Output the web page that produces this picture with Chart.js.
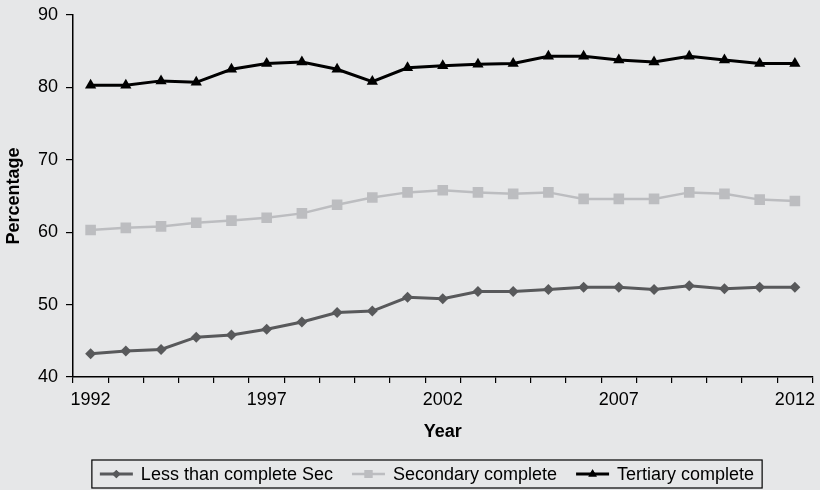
<!DOCTYPE html>
<html>
<head>
<meta charset="utf-8">
<script src="https://cdn.jsdelivr.net/npm/chart.js@4"></script>
<style>
  html, body { margin: 0; padding: 0; background: #e6e7e8; }
  #wrap { width: 820px; height: 490px; position: relative; }
</style>
</head>
<body>
<div id="wrap"><canvas id="eduChart"></canvas></div>
<script>
const years = ['1992','1993','1994','1995','1996','1997','1998','1999','2000','2001','2002',
               '2003','2004','2005','2006','2007','2008','2009','2010','2011','2012'];
const shownYears = ['1992', '1997', '2002', '2007', '2012'];

const lessThanSec = [43.2, 43.6, 43.8, 45.5, 45.8, 46.6, 47.6, 48.9, 49.1, 51.0, 50.8,
                     51.8, 51.8, 52.1, 52.4, 52.4, 52.1, 52.6, 52.2, 52.4, 52.4];
const secondary   = [60.3, 60.6, 60.8, 61.3, 61.6, 62.0, 62.6, 63.8, 64.8, 65.5, 65.8,
                     65.5, 65.3, 65.5, 64.6, 64.6, 64.6, 65.5, 65.3, 64.5, 64.3];
const tertiary    = [80.3, 80.3, 80.9, 80.7, 82.5, 83.3, 83.5, 82.5, 80.8, 82.7, 83.0,
                     83.2, 83.3, 84.3, 84.3, 83.8, 83.5, 84.3, 83.8, 83.3, 83.3];

const yTicks = [40, 50, 60, 70, 80, 90];

const font = "'Liberation Sans', Arial, Helvetica, sans-serif";

// legend drawn in a box under the axis title
const boxLegend = {
  id: 'boxLegend',
  afterDraw(chart) {
    const ctx = chart.ctx;
    const sets = chart.data.datasets;
    ctx.save();
    ctx.font = '18px ' + font;
    const lineLen = 33, gapLine = 8, gapItem = 19, padX = 8;
    let total = padX * 2;
    sets.forEach((ds, i) => {
      total += lineLen + gapLine + ctx.measureText(ds.label).width;
      if (i < sets.length - 1) total += gapItem;
    });
    const left = 427 - total / 2;
    const top = 460, h = 28, cy = top + h / 2;
    ctx.strokeStyle = '#000';
    ctx.lineWidth = 1.2;
    ctx.strokeRect(left, top, total, h);
    let x = left + padX;
    sets.forEach(ds => {
      ctx.strokeStyle = ds.borderColor;
      ctx.lineWidth = ds.borderWidth;
      ctx.beginPath();
      ctx.moveTo(x, cy);
      ctx.lineTo(x + lineLen, cy);
      ctx.stroke();
      ctx.fillStyle = ds.pointBackgroundColor;
      ctx.beginPath();
      Chart.helpers.drawPoint(ctx, {
        pointStyle: ds.pointStyle,
        radius: ds.pointRadius * 0.75,
        rotation: 0,
        borderWidth: 0
      }, x + lineLen / 2, cy);
      ctx.fill();
      x += lineLen + gapLine;
      ctx.fillStyle = '#000';
      ctx.textBaseline = 'middle';
      ctx.textAlign = 'left';
      ctx.fillText(ds.label, x, cy + 1);
      x += ctx.measureText(ds.label).width + gapItem;
    });
    ctx.restore();
  }
};

const ctx = document.getElementById('eduChart');
new Chart(ctx, {
  type: 'line',
  data: {
    labels: years,
    datasets: [
      {
        label: 'Less than complete Sec',
        data: lessThanSec,
        borderColor: '#58595b',
        backgroundColor: '#58595b',
        pointBackgroundColor: '#58595b',
        pointBorderColor: '#58595b',
        borderWidth: 3,
        pointStyle: 'rectRot',
        pointRadius: 5.5,
        pointBorderWidth: 0
      },
      {
        label: 'Secondary complete',
        data: secondary,
        borderColor: '#bcbdc0',
        backgroundColor: '#bcbdc0',
        pointBackgroundColor: '#bcbdc0',
        pointBorderColor: '#bcbdc0',
        borderWidth: 2.5,
        pointStyle: 'rect',
        pointRadius: 7.5,
        pointBorderWidth: 0
      },
      {
        label: 'Tertiary complete',
        data: tertiary,
        borderColor: '#000000',
        backgroundColor: '#000000',
        pointBackgroundColor: '#000000',
        pointBorderColor: '#000000',
        borderWidth: 3,
        pointStyle: 'triangle',
        pointRadius: 6.5,
        pointBorderWidth: 0
      }
    ]
  },
  options: {
    responsive: true,
    maintainAspectRatio: false,
    animation: false,
    layout: { padding: { top: 15, right: 2, left: 0, bottom: 45 } },
    elements: { line: { tension: 0 } },
    plugins: {
      legend: { display: false },
      tooltip: { enabled: false }
    },
    scales: {
      x: {
        offset: true,
        afterFit: s => { s.height = 68; s.paddingLeft = 0; s.paddingRight = 0; },
        grid: { offset: true, drawOnChartArea: false, tickLength: 6, color: '#000', lineWidth: 1.2 },
        border: { color: '#000', width: 1.5 },
        ticks: {
          autoSkip: false,
          maxRotation: 0,
          padding: 6,
          color: '#000',
          font: { family: font, size: 18 },
          callback: function(v) {
            const lab = this.getLabelForValue(v);
            return shownYears.includes(lab) ? lab : '';
          }
        },
        title: {
          display: true,
          text: 'Year',
          color: '#000',
          font: { family: font, size: 18, weight: 'bold' },
          padding: { top: 0, bottom: 2 }
        }
      },
      y: {
        min: yTicks[0],
        max: yTicks[yTicks.length - 1],
        afterFit: s => { s.width = 73; s.paddingTop = 0; s.paddingBottom = 0; },
        afterBuildTicks: s => { s.ticks = yTicks.map(v => ({ value: v })); },
        grid: { drawOnChartArea: false, tickLength: 7, color: '#000', lineWidth: 1.2 },
        border: { color: '#000', width: 1.5 },
        ticks: {
          padding: 8,
          color: '#000',
          font: { family: font, size: 18 }
        },
        title: {
          display: true,
          text: 'Percentage',
          color: '#000',
          font: { family: font, size: 18, weight: 'bold' },
          padding: { top: 3, bottom: 0 }
        }
      }
    }
  },
  plugins: [boxLegend]
});
</script>
</body>
</html>
